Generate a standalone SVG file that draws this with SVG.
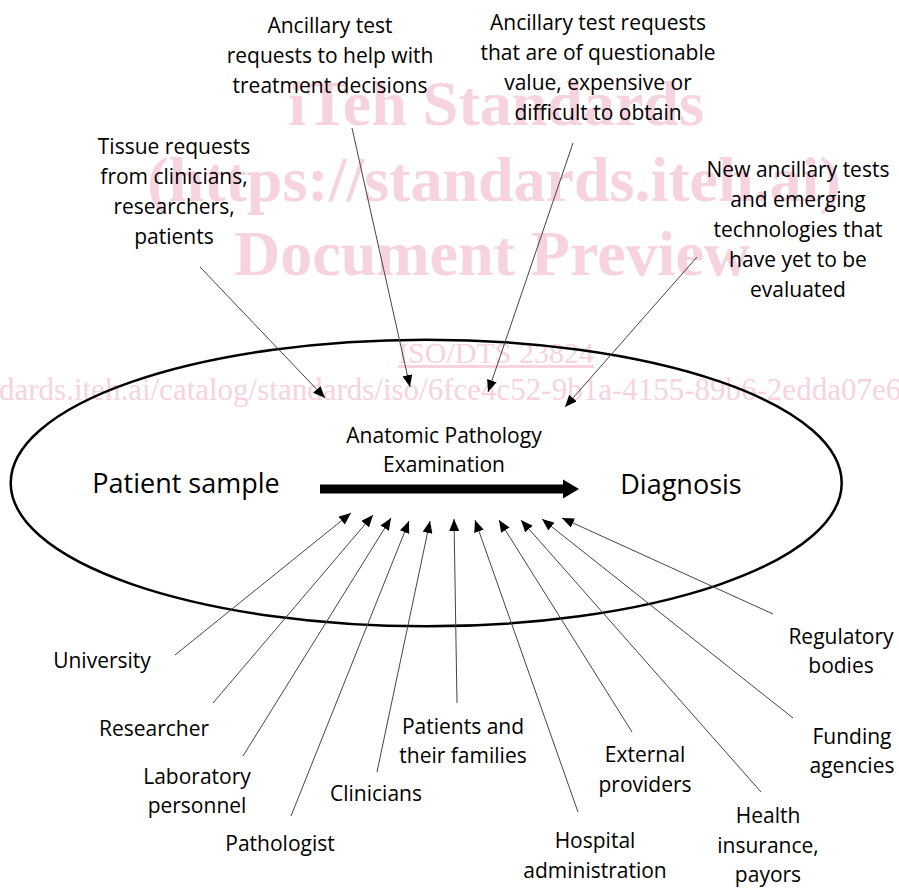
<svg xmlns="http://www.w3.org/2000/svg" width="899" height="890" viewBox="0 0 899 890">
<style>
  .wm { fill: #f6d3de; font-family: "Liberation Serif", serif; }
  .wmb { font-weight: bold; font-size: 64px; }
  .lbl { fill: #000; font-family: "Open Sans", "Liberation Sans", sans-serif; font-size: 21px; text-anchor: middle; }
  .big { fill: #000; font-family: "Open Sans", "Liberation Sans", sans-serif; font-size: 27px; text-anchor: middle; }
  .conn { stroke: #444; stroke-width: 1; fill: none; marker-end: url(#ah); }
</style>
<defs>
  <marker id="ah" markerUnits="userSpaceOnUse" markerWidth="12" markerHeight="10" refX="12" refY="5" orient="auto">
    <path d="M0,0 L12,5 L0,10 z" fill="#000"/>
  </marker>
</defs>
<rect width="899" height="890" fill="#fff"/>
<g id="watermark" class="wm">
  <text class="wmb" x="496" y="125" text-anchor="middle">iTeh Standards</text>
  <text class="wmb" x="494" y="201" text-anchor="middle">(https://standards.iteh.ai)</text>
  <text class="wmb" x="492" y="275" text-anchor="middle">Document Preview</text>
  <text x="496" y="363" font-size="30" text-anchor="middle" text-decoration="underline">ISO/DTS 23824</text>
  <text x="-1" y="400" font-size="31">dards.iteh.ai/catalog/standards/iso/6fce4c52-9b1a-4155-89b6-2edda07e6</text>
</g>
<g id="process">
  <ellipse cx="426.2" cy="483" rx="415.5" ry="143.3" fill="none" stroke="#000" stroke-width="2.5"/>
  <text class="lbl" x="444" y="443">Anatomic Pathology</text>
  <text class="lbl" x="444" y="472">Examination</text>
  <rect x="320" y="484.5" width="246" height="9" fill="#000"/>
  <polygon points="563,479.5 579,489 563,498.5" fill="#000"/>
</g>
<g id="patient-sample"><text class="big" x="186" y="493">Patient sample</text></g>
<g id="diagnosis"><text class="big" x="681" y="494">Diagnosis</text></g>
<g id="tissue-requests">
  <text class="lbl" x="174" y="154">Tissue requests</text>
  <text class="lbl" x="174" y="184">from clinicians,</text>
  <text class="lbl" x="174" y="214">researchers,</text>
  <text class="lbl" x="174" y="244">patients</text>
</g>
<g id="ancillary-treatment">
  <text class="lbl" x="330" y="33">Ancillary test</text>
  <text class="lbl" x="330" y="63">requests to help with</text>
  <text class="lbl" x="330" y="93">treatment decisions</text>
</g>
<g id="ancillary-questionable">
  <text class="lbl" x="598" y="30">Ancillary test requests</text>
  <text class="lbl" x="598" y="60">that are of questionable</text>
  <text class="lbl" x="598" y="90">value, expensive or</text>
  <text class="lbl" x="598" y="120">difficult to obtain</text>
</g>
<g id="new-tests">
  <text class="lbl" x="798" y="177">New ancillary tests</text>
  <text class="lbl" x="798" y="207">and emerging</text>
  <text class="lbl" x="798" y="237">technologies that</text>
  <text class="lbl" x="798" y="267">have yet to be</text>
  <text class="lbl" x="798" y="297">evaluated</text>
</g>
<g id="university"><text class="lbl" x="102" y="668">University</text></g>
<g id="researcher"><text class="lbl" x="154" y="736">Researcher</text></g>
<g id="laboratory-personnel">
  <text class="lbl" x="197" y="784">Laboratory</text>
  <text class="lbl" x="197" y="813">personnel</text>
</g>
<g id="pathologist"><text class="lbl" x="280" y="851">Pathologist</text></g>
<g id="clinicians"><text class="lbl" x="376" y="801">Clinicians</text></g>
<g id="patients-families">
  <text class="lbl" x="463" y="734">Patients and</text>
  <text class="lbl" x="463" y="763">their families</text>
</g>
<g id="hospital-administration">
  <text class="lbl" x="595" y="848">Hospital</text>
  <text class="lbl" x="595" y="878">administration</text>
</g>
<g id="external-providers">
  <text class="lbl" x="645" y="762">External</text>
  <text class="lbl" x="645" y="792">providers</text>
</g>
<g id="health-insurance">
  <text class="lbl" x="768" y="823">Health</text>
  <text class="lbl" x="768" y="853">insurance,</text>
  <text class="lbl" x="768" y="882">payors</text>
</g>
<g id="funding-agencies">
  <text class="lbl" x="852" y="744">Funding</text>
  <text class="lbl" x="852" y="773">agencies</text>
</g>
<g id="regulatory-bodies">
  <text class="lbl" x="841" y="644">Regulatory</text>
  <text class="lbl" x="841" y="673">bodies</text>
</g>
<g id="connectors">
  <line class="conn" x1="200" y1="267" x2="325" y2="398"/>
  <line class="conn" x1="352" y1="128" x2="410" y2="387"/>
  <line class="conn" x1="573" y1="143" x2="488" y2="392"/>
  <line class="conn" x1="697" y1="257" x2="565" y2="407"/>
  <line class="conn" x1="175" y1="655" x2="351" y2="513"/>
  <line class="conn" x1="213" y1="703" x2="373" y2="515"/>
  <line class="conn" x1="243" y1="756" x2="391" y2="518"/>
  <line class="conn" x1="291" y1="816" x2="409" y2="521"/>
  <line class="conn" x1="377" y1="772" x2="430" y2="521"/>
  <line class="conn" x1="457" y1="703" x2="454" y2="519"/>
  <line class="conn" x1="578" y1="812" x2="475" y2="520"/>
  <line class="conn" x1="632" y1="732" x2="499" y2="520"/>
  <line class="conn" x1="761" y1="792" x2="521" y2="520"/>
  <line class="conn" x1="793" y1="718" x2="542" y2="519"/>
  <line class="conn" x1="773" y1="614" x2="562" y2="518"/>
</g>
</svg>
